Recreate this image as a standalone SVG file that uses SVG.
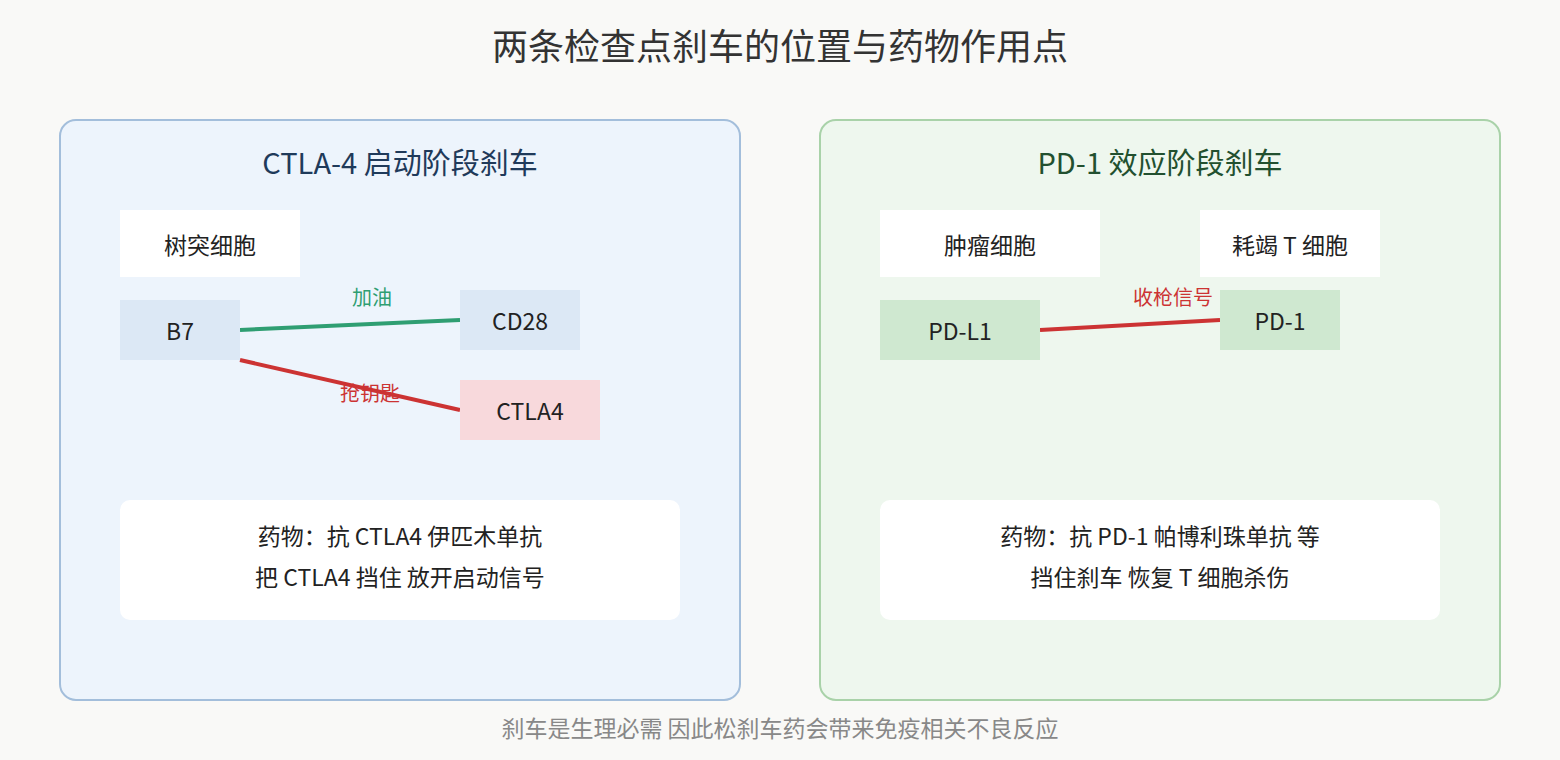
<svg xmlns="http://www.w3.org/2000/svg" width="1560" height="760" viewBox="0 0 1560 760">
<style>
text{font-family:"Noto Sans CJK SC","Noto Sans",sans-serif;text-anchor:middle;dominant-baseline:central}
.t{font-size:23px;fill:#222}
.lbl{font-size:20px}
</style>
<rect width="1560" height="760" fill="#f9f9f7"/>
<text x="780" y="44" font-size="36" fill="#333">两条检查点刹车的位置与药物作用点</text>
<g id="panel-ctla4">
<rect x="60" y="120" width="680" height="580" rx="16" fill="#edf4fc" stroke="#a3bedb" stroke-width="2"/>
<text x="400" y="161" font-size="29" fill="#1f3a5a">CTLA-4 启动阶段刹车</text>
</g>
<g id="panel-pd1">
<rect x="820" y="120" width="680" height="580" rx="16" fill="#eef7ee" stroke="#a9d2a9" stroke-width="2"/>
<text x="1160" y="161" font-size="29" fill="#22502f">PD-1 效应阶段刹车</text>
</g>
<g id="connectors">
<line x1="240" y1="330" x2="460" y2="320" stroke="#2f9e72" stroke-width="4"/>
<line x1="240" y1="360" x2="460" y2="410" stroke="#cc3333" stroke-width="4"/>
<line x1="1040" y1="330" x2="1220" y2="320" stroke="#cc3333" stroke-width="4"/>
<text class="lbl" x="372" y="296" fill="#2f9e72">加油</text>
<text class="lbl" x="370" y="392" fill="#cc3333">抢钥匙</text>
<text class="lbl" x="1173" y="296" fill="#cc3333">收枪信号</text>
</g>
<g id="dc"><rect x="120" y="210" width="180" height="67" fill="#fff"/><text class="t" x="210" y="244">树突细胞</text></g>
<g id="b7"><rect x="120" y="300" width="120" height="60" fill="#dce8f5"/><text class="t" x="180" y="330">B7</text></g>
<g id="cd28"><rect x="460" y="290" width="120" height="60" fill="#dce8f5"/><text class="t" x="520" y="320">CD28</text></g>
<g id="ctla4"><rect x="460" y="380" width="140" height="60" fill="#f8d9dc"/><text class="t" x="530" y="410">CTLA4</text></g>
<g id="drug1"><rect x="120" y="500" width="560" height="120" rx="10" fill="#fff"/><text class="t" x="400" y="535">药物：抗 CTLA4 伊匹木单抗</text><text class="t" x="400" y="576">把 CTLA4 挡住 放开启动信号</text></g>
<g id="tumor"><rect x="880" y="210" width="220" height="67" fill="#fff"/><text class="t" x="990" y="244">肿瘤细胞</text></g>
<g id="tcell"><rect x="1200" y="210" width="180" height="67" fill="#fff"/><text class="t" x="1290" y="244">耗竭 T 细胞</text></g>
<g id="pdl1"><rect x="880" y="300" width="160" height="60" fill="#cfe8d0"/><text class="t" x="960" y="330">PD-L1</text></g>
<g id="pd1"><rect x="1220" y="290" width="120" height="60" fill="#cfe8d0"/><text class="t" x="1280" y="320">PD-1</text></g>
<g id="drug2"><rect x="880" y="500" width="560" height="120" rx="10" fill="#fff"/><text class="t" x="1160" y="535">药物：抗 PD-1 帕博利珠单抗 等</text><text class="t" x="1160" y="576">挡住刹车 恢复 T 细胞杀伤</text></g>
<text x="780" y="727" font-size="23" fill="#888">刹车是生理必需 因此松刹车药会带来免疫相关不良反应</text>
</svg>
